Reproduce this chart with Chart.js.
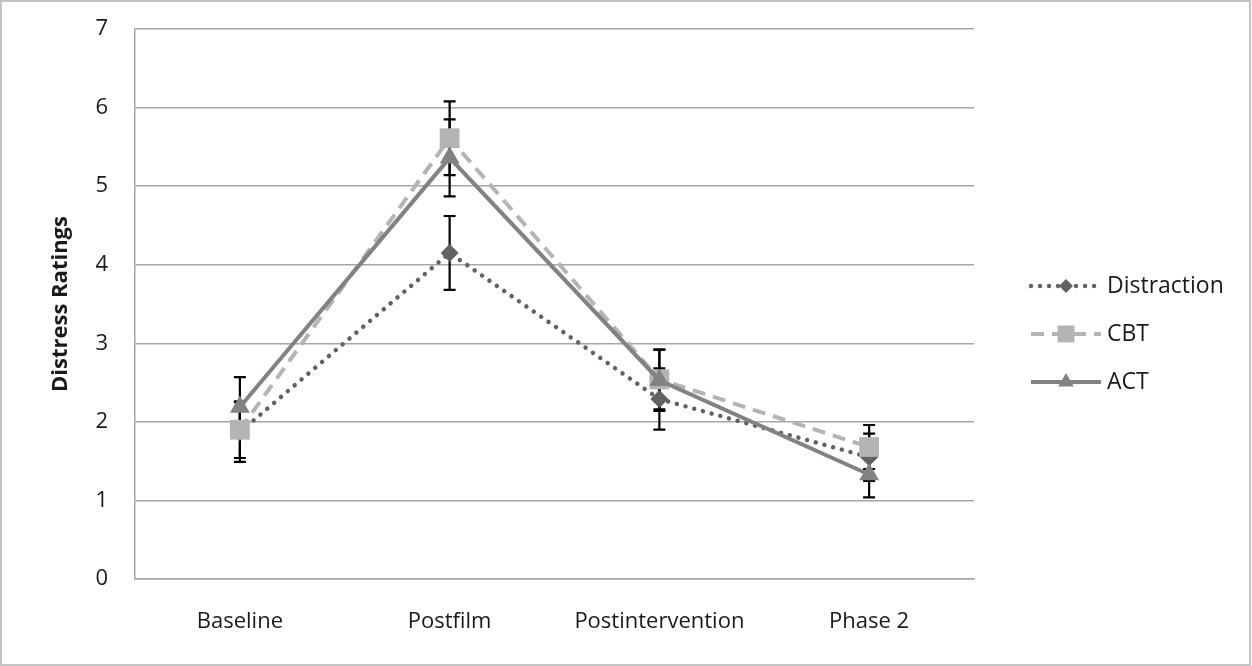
<!DOCTYPE html>
<html>
<head>
<meta charset="utf-8">
<script src="https://cdn.jsdelivr.net/npm/chart.js@4/dist/chart.umd.min.js"></script>
<style>
  html, body { margin: 0; padding: 0; background: #fff; }
  #wrap { width: 1252px; height: 666px; position: relative; }
</style>
</head>
<body>
<div id="wrap"><canvas id="myChart" width="1252" height="666"></canvas></div>
<script>
// categories along the x-axis
var phases = ["Baseline", "Postfilm", "Postintervention", "Phase 2"];
// mean distress ratings per group
var distraction = [1.87, 4.15, 2.29, 1.55];
var cbt = [1.90, 5.61, 2.54, 1.68];
var act = [2.19, 5.36, 2.53, 1.33];
// error bar half-widths (+/-)
var distractionErr = [0.38, 0.47, 0.39, 0.30];
var cbtErr = [0.36, 0.47, 0.38, 0.28];
var actErr = [0.38, 0.49, 0.39, 0.29];
// y-axis ticks
var yTicks = [0, 1, 2, 3, 4, 5, 6, 7];

var FONT = "'Open Sans', sans-serif";
var TEXT = '#1a1a1a';

var errors = [distractionErr, cbtErr, actErr];

// error bars, drawn before the series so the markers sit on top
var errorBars = {
  id: 'errorBars',
  beforeDatasetsDraw: function(chart) {
    var ctx = chart.ctx, y = chart.scales.y;
    ctx.save();
    ctx.strokeStyle = '#000';
    ctx.lineWidth = 2.2;
    chart.data.datasets.forEach(function(ds, i) {
      var meta = chart.getDatasetMeta(i);
      meta.data.forEach(function(pt, j) {
        var v = ds.data[j], e = errors[i][j];
        var top = y.getPixelForValue(v + e), bot = y.getPixelForValue(v - e);
        ctx.beginPath();
        ctx.moveTo(pt.x, top); ctx.lineTo(pt.x, bot);
        ctx.moveTo(pt.x - 6, top); ctx.lineTo(pt.x + 6, top);
        ctx.moveTo(pt.x - 6, bot); ctx.lineTo(pt.x + 6, bot);
        ctx.stroke();
      });
    });
    ctx.restore();
  }
};

// Excel style legend: line sample with marker in the middle
var sideLegend = {
  id: 'sideLegend',
  afterDraw: function(chart) {
    var ctx = chart.ctx;
    var rows = [286, 334, 382];
    var legendRadius = [7, 12, 9];
    ctx.save();
    chart.data.datasets.forEach(function(ds, i) {
      var yy = rows[i];
      ctx.strokeStyle = ds.borderColor;
      ctx.lineWidth = ds.borderWidth;
      ctx.lineCap = ds.borderCapStyle || 'butt';
      ctx.setLineDash(ds.borderDash || []);
      ctx.beginPath();
      ctx.moveTo(1031, yy); ctx.lineTo(1101, yy);
      ctx.stroke();
      ctx.setLineDash([]);
      ctx.fillStyle = ds.pointBackgroundColor;
      ctx.strokeStyle = ds.pointBackgroundColor;
      Chart.helpers.drawPoint(ctx, { pointStyle: ds.pointStyle, radius: legendRadius[i], borderWidth: 0, rotation: 0 }, 1066, yy);
      ctx.fillStyle = TEXT;
      ctx.font = '23px ' + FONT;
      ctx.textBaseline = 'middle';
      ctx.textAlign = 'left';
      ctx.fillText(ds.label, 1107, yy);
    });
    // chart area frame
    ctx.strokeStyle = '#c4c4c4';
    ctx.lineWidth = 2;
    ctx.setLineDash([]);
    ctx.strokeRect(1, 1, 1249, 664);
    ctx.restore();
  }
};

var ctx = document.getElementById("myChart");
var myChart = new Chart(ctx, {
  type: 'line',
  data: {
    labels: phases,
    datasets: [
      {
        label: "Distraction",
        data: distraction,
        borderColor: '#626262',
        borderWidth: 4.5,
        borderDash: [0.01, 9],
        borderCapStyle: 'round',
        pointStyle: 'rectRot',
        pointRadius: 9,
        pointBorderWidth: 0,
        pointBackgroundColor: '#626262',
        tension: 0,
        order: 2
      },
      {
        label: "CBT",
        data: cbt,
        borderColor: '#b4b4b4',
        borderWidth: 4,
        borderDash: [13, 8],
        pointStyle: 'rect',
        pointRadius: 14,
        pointBorderWidth: 0,
        pointBackgroundColor: '#b4b4b4',
        tension: 0,
        order: 1
      },
      {
        label: "ACT",
        data: act,
        borderColor: '#828282',
        borderWidth: 4,
        pointStyle: 'triangle',
        pointRadius: 11.5,
        pointBorderWidth: 0,
        pointBackgroundColor: '#828282',
        tension: 0,
        order: 0
      }
    ]
  },
  options: {
    responsive: false,
    animation: false,
    layout: { padding: { left: 0, top: 29, right: 278, bottom: 0 } },
    plugins: {
      legend: { display: false },
      tooltip: { enabled: false }
    },
    scales: {
      x: {
        offset: true,
        grid: { display: false, drawTicks: false },
        border: { color: '#a6a6a6', width: 1.5 },
        ticks: { color: TEXT, font: { family: FONT, size: 22 }, padding: 30, maxRotation: 0 },
        afterFit: function(s) { s.height = 87; }
      },
      y: {
        min: 0,
        max: 7,
        afterBuildTicks: function(s) { s.ticks = yTicks.map(function(v) { return { value: v }; }); },
        grid: { color: '#a6a6a6', lineWidth: 1.5, drawTicks: false },
        border: { color: '#a6a6a6', width: 1.5 },
        ticks: { color: TEXT, font: { family: FONT, size: 22 }, padding: 27 },
        title: {
          display: true,
          text: 'Distress Ratings',
          color: TEXT,
          font: { family: FONT, size: 22, weight: 'bold' },
          padding: { top: 48, bottom: 0 }
        },
        afterFit: function(s) {
          s.width = 135;
          s.paddingTop = 10;
          s.paddingBottom = 10;
        }
      }
    }
  },
  plugins: [errorBars, sideLegend]
});
</script>
</body>
</html>
